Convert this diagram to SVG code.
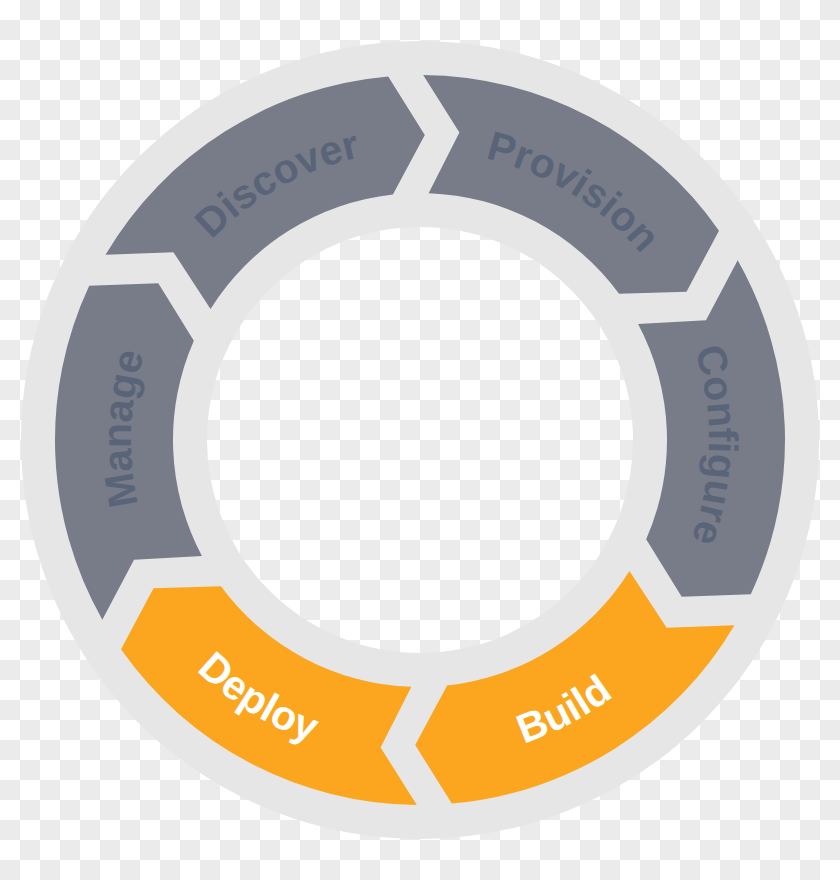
<svg xmlns="http://www.w3.org/2000/svg" width="840" height="880" viewBox="0 0 840 880">
<style>
.lbl{font-family:"Liberation Sans",Arial,sans-serif;font-weight:bold;font-size:41px;text-anchor:middle}
.grey{fill:#777c88}
.orange{fill:#fba61e}
.dark{fill:#5a6478}
.light{fill:#ffffff}
</style>
<defs>
<pattern id="checker" width="40" height="40" patternUnits="userSpaceOnUse">
<rect width="40" height="40" fill="#ffffff"/>
<rect x="20" y="0" width="20" height="20" fill="#ebebeb"/>
<rect x="0" y="20" width="20" height="20" fill="#ebebeb"/>
</pattern>
<path id="seg" d="M 364.65 15.92 A 365 365 0 0 1 198.79 306.11 L 138.94 271.51 L 139.19 204.05 A 247 247 0 0 0 246.40 17.23 L 305.93 50.10 Z"/>
<path id="arcOut" d="M 169.72 295.5 A 289 289 0 0 1 670.28 295.5" fill="none"/>
<path id="arcIn" d="M 142 600.5 A 321 321 0 0 0 698 600.5" fill="none"/>
</defs>
<rect id="background" width="840" height="880" fill="url(#checker)"/>
<circle id="ring" cx="420" cy="440" r="306" fill="none" stroke="#e6e6e6" stroke-width="186"/>
<g id="node-discover">
<use href="#seg" class="grey" transform="translate(420 440) rotate(-152)"/>
<text class="lbl dark" transform="rotate(-29 420 440)"><textPath href="#arcOut" startOffset="50%">Discover</textPath></text>
</g>
<g id="node-provision">
<use href="#seg" class="grey" transform="translate(420 440) rotate(-92)"/>
<text class="lbl dark" transform="rotate(31.5 420 440)"><textPath href="#arcOut" startOffset="50%">Provision</textPath></text>
</g>
<g id="node-configure">
<use href="#seg" class="grey" transform="translate(420 440) rotate(-32)"/>
<text class="lbl dark" transform="rotate(91 420 440)"><textPath href="#arcOut" startOffset="50%">Configure</textPath></text>
</g>
<g id="node-build">
<use href="#seg" class="orange" transform="translate(420 440) rotate(28)"/>
<text class="lbl light" transform="rotate(-28 420 440)"><textPath href="#arcIn" startOffset="50%">Build</textPath></text>
</g>
<g id="node-deploy">
<use href="#seg" class="orange" transform="translate(420 440) rotate(88)"/>
<text class="lbl light" transform="rotate(32 420 440)"><textPath href="#arcIn" startOffset="50%">Deploy</textPath></text>
</g>
<g id="node-manage">
<use href="#seg" class="grey" transform="translate(420 440) rotate(148)"/>
<text class="lbl dark" transform="rotate(272.2 420 440)"><textPath href="#arcOut" startOffset="50%">Manage</textPath></text>
</g>
<g id="connectors"/>
</svg>
